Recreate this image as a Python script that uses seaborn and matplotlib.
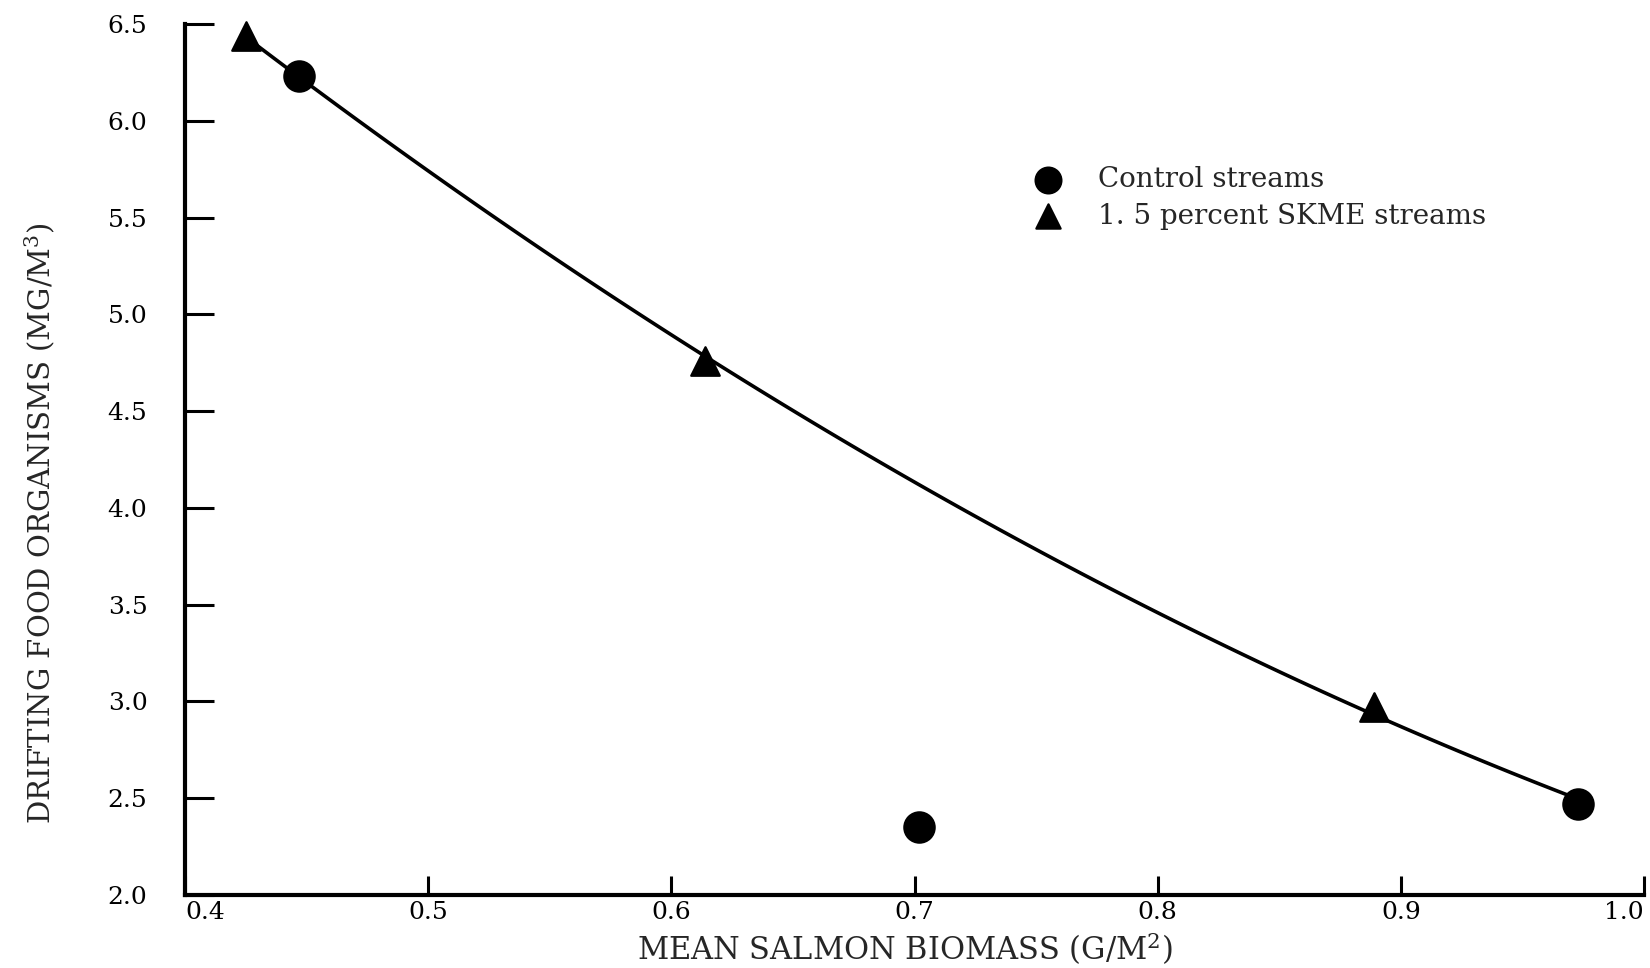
import numpy as np
import pandas as pd
import matplotlib
matplotlib.use("Agg")
import matplotlib.pyplot as plt
import seaborn as sns

# ---- data ----
control_x = [0.447, 0.702, 0.973]
control_y = [6.23, 2.35, 2.47]
control_on_curve = [True, False, True]
skme_x = [0.425, 0.614, 0.889]
skme_y = [6.44, 4.76, 2.97]

x_ticks = [0.4, 0.5, 0.6, 0.7, 0.8, 0.9, 1.0]
x_tick_labels = ["0.4", "0.5", "0.6", "0.7", "0.8", "0.9", "1.0"]
y_ticks = [2.0, 2.5, 3.0, 3.5, 4.0, 4.5, 5.0, 5.5, 6.0, 6.5]
y_tick_labels = ["2.0", "2.5", "3.0", "3.5", "4.0", "4.5", "5.0", "5.5", "6.0", "6.5"]

label_control = "Control streams"
label_skme = "1. 5 percent SKME streams"
x_label = "MEAN SALMON BIOMASS (G/M$^2$)"
y_label = "DRIFTING FOOD ORGANISMS (MG/M$^3$)"

sns.set_style("ticks")
plt.rcParams["font.family"] = ["DejaVu Serif"]
plt.rcParams["mathtext.fontset"] = "dejavuserif"

fig = plt.figure(figsize=(16.5, 9.68), dpi=100)
ax = fig.add_axes([0.1121, 0.0754, 0.8843, 0.8996])

# fitted curve through the points that lie on it
fit_x = skme_x + [x for x, f in zip(control_x, control_on_curve) if f]
fit_y = skme_y + [y for y, f in zip(control_y, control_on_curve) if f]
fit_df = pd.DataFrame({"x": fit_x, "y": fit_y})
sns.regplot(data=fit_df, x="x", y="y", order=2, ci=None, scatter=False,
            truncate=True, ax=ax, line_kws=dict(color="black", lw=2.6))

ctrl_df = pd.DataFrame({"x": control_x, "y": control_y})
skme_df = pd.DataFrame({"x": skme_x, "y": skme_y})
sns.scatterplot(data=ctrl_df, x="x", y="y", marker="o", s=470, color="black",
                edgecolor="black", ax=ax, label=label_control, clip_on=False, zorder=5)
sns.scatterplot(data=skme_df, x="x", y="y", marker="^", s=420, color="black",
                edgecolor="black", ax=ax, label=label_skme, clip_on=False, zorder=5)

ax.set_xlim(0.4, 1.0)
ax.set_ylim(2.0, 6.5)
ax.set_xticks(x_ticks)
ax.set_xticklabels(x_tick_labels)
ax.set_yticks(y_ticks)
ax.set_yticklabels(y_tick_labels)

for side in ["top", "right"]:
    ax.spines[side].set_visible(False)
for side in ["left", "bottom"]:
    ax.spines[side].set_linewidth(3)
    ax.spines[side].set_color("black")

ax.tick_params(axis="y", direction="in", length=21, width=2.2, pad=27,
               labelsize=18, colors="black")
ax.tick_params(axis="x", direction="in", length=14, width=2.2, pad=4,
               labelsize=18, colors="black")
xt = ax.get_xticklabels()
xt[0].set_horizontalalignment("left")
xt[-1].set_horizontalalignment("right")

ax.set_xlabel(x_label, fontsize=22)
ax.set_ylabel(y_label, fontsize=21)
ax.xaxis.set_label_coords(0.4935, -0.040)
ax.yaxis.set_label_coords(-0.088, 0.427)

leg = ax.legend(loc="upper left", bbox_to_anchor=(0.565, 0.85), frameon=False,
                fontsize=20, handletextpad=0.8, labelspacing=0.35,
                markerscale=0.85, borderaxespad=0)

fig.savefig("out.png", dpi=100)
